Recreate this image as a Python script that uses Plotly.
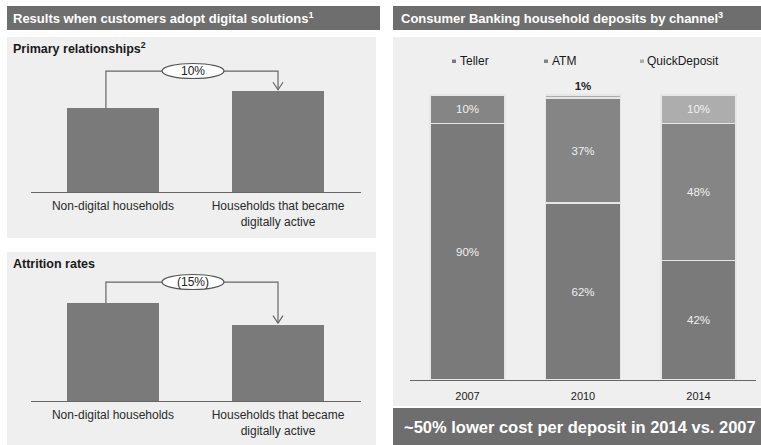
import plotly.graph_objects as go

W, H = 761, 445

# ---- data -------------------------------------------------------------
household_types = ["Non-digital households", "Households that became<br>digitally active"]
primary_index = [100, 120]        # primary relationships, indexed to non-digital = 100
attrition_index = [100, 78]       # attrition rates, indexed to non-digital = 100
primary_change = "10%"
attrition_change = "(15%)"

years = ["2007", "2010", "2014"]
teller = [90, 62, 42]
atm = [10, 37, 48]
quick_deposit = [None, 1, 10]

# ---- styling ----------------------------------------------------------
FONT = "Liberation Sans, Arial, sans-serif"
HEADER = "#6e6e6e"
PANEL = "#efefef"
BAR = "#7a7a7a"
C_TELLER = "#7a7a7a"
C_ATM = "#858585"
C_QUICK = "#adadad"
LINE = "#666666"
SEG_TXT = "#f0f0f0"


def px_x(p):
    return p / W


def px_y(p):
    return 1 - p / H


fig = go.Figure()

# left-hand bar charts
fig.add_trace(go.Bar(x=household_types, y=primary_index, xaxis="x", yaxis="y",
                     marker=dict(color=BAR, line=dict(width=0)), width=0.558,
                     showlegend=False, hoverinfo="skip"))
fig.add_trace(go.Bar(x=household_types, y=attrition_index, xaxis="x2", yaxis="y2",
                     marker=dict(color=BAR, line=dict(width=0)), width=0.558,
                     showlegend=False, hoverinfo="skip"))

# stacked deposits by channel
seg_line = dict(color="#e6e6e6", width=1.6)
seg_font = dict(color=SEG_TXT, size=11.5, family=FONT)
fig.add_trace(go.Bar(name="Teller", x=years, y=teller, xaxis="x3", yaxis="y3",
                     marker=dict(color=C_TELLER, line=seg_line), width=0.65,
                     text=[f"{v}%" for v in teller], textposition="inside",
                     insidetextanchor="middle", textangle=0, textfont=seg_font,
                     showlegend=False, hoverinfo="skip"))
fig.add_trace(go.Bar(name="ATM", x=years, y=atm, xaxis="x3", yaxis="y3",
                     marker=dict(color=C_ATM, line=seg_line), width=0.65,
                     text=[f"{v}%" for v in atm], textposition="inside",
                     insidetextanchor="middle", textangle=0, textfont=seg_font,
                     showlegend=False, hoverinfo="skip"))
fig.add_trace(go.Bar(name="QuickDeposit", x=years, y=quick_deposit, xaxis="x3", yaxis="y3",
                     marker=dict(color=C_QUICK, line=seg_line), width=0.65,
                     text=["" if v is None else f"{v}%" for v in quick_deposit],
                     textposition=["inside", "outside", "inside"],
                     insidetextanchor="middle", textangle=0,
                     textfont=dict(color=[SEG_TXT, "#222222", SEG_TXT], size=11.5, family=FONT,
                                   weight=["normal", "bold", "normal"]),
                     cliponaxis=False, showlegend=False, hoverinfo="skip"))

shapes = []
annotations = []

# background panels and header bars
for x0, y0, x1, y1, col in [
    (7, 6, 380, 30, HEADER),
    (393, 6, 761, 30, HEADER),
    (7, 37, 376, 238, PANEL),
    (7, 252, 376, 445, PANEL),
    (393, 37, 761, 406, PANEL),
    (393, 408, 761, 445, HEADER),
]:
    shapes.append(dict(type="rect", xref="paper", yref="paper", layer="below",
                       x0=px_x(x0), x1=px_x(x1), y0=px_y(y1), y1=px_y(y0),
                       fillcolor=col, line=dict(width=0)))

annotations += [
    dict(text="Results when customers adopt digital solutions<sup>1</sup>", x=px_x(11), y=px_y(18),
         xanchor="left", yanchor="middle", font=dict(family=FONT, size=13, color="white", weight="bold")),
    dict(text="Consumer Banking household deposits by channel<sup>3</sup>", x=px_x(399), y=px_y(18),
         xanchor="left", yanchor="middle", font=dict(family=FONT, size=13, color="white", weight="bold")),
    dict(text="Primary relationships<sup>2</sup>", x=px_x(11), y=px_y(48),
         xanchor="left", yanchor="middle", font=dict(family=FONT, size=12.5, color="#1a1a1a", weight="bold")),
    dict(text="Attrition rates", x=px_x(11), y=px_y(264),
         xanchor="left", yanchor="middle", font=dict(family=FONT, size=12.5, color="#1a1a1a", weight="bold")),
    dict(text="~50% lower cost per deposit in 2014 vs. 2007", x=px_x(580), y=px_y(427),
         xanchor="center", yanchor="middle", font=dict(family=FONT, size=16.5, color="white", weight="bold")),
]


def change_connector(xa, ya, values, level, label, oval_y):
    """Elbow connector from first bar to second bar with an oval change label."""
    a, b = values
    shapes.append(dict(type="path", xref=xa, yref=ya, layer="above",
                       path=f"M -0.043,{a} L -0.043,{level} L 1,{level} L 1,{b + 1.5}",
                       line=dict(color=LINE, width=1.2)))
    shapes.append(dict(type="path", xref=xa, yref=ya, layer="above",
                       xsizemode="pixel", xanchor=1, ysizemode="pixel", yanchor=b,
                       path="M -5,9 L 0,1.5 L 5,9", line=dict(color=LINE, width=1.2)))
    shapes.append(dict(type="circle", xref="paper", yref="paper", layer="above",
                       x0=px_x(162), x1=px_x(224), y0=px_y(oval_y + 7.5), y1=px_y(oval_y - 7.5),
                       fillcolor="white", line=dict(color="#555555", width=1.2)))
    annotations.append(dict(text=label, x=px_x(193), y=px_y(oval_y), xref="paper", yref="paper",
                            xanchor="center", yanchor="middle",
                            font=dict(family=FONT, size=12, color="#222222")))


change_connector("x", "y", primary_index, 144, primary_change, 71)
change_connector("x2", "y2", attrition_index, 121.4, attrition_change, 282)

# channel key
for sx, tx, label, col in [(452, 458, "Teller", C_TELLER), (544, 550, "ATM", C_ATM),
                           (640, 645, "QuickDeposit", C_QUICK)]:
    shapes.append(dict(type="rect", xref="paper", yref="paper", layer="above",
                       x0=px_x(sx), x1=px_x(sx + 4), y0=px_y(63), y1=px_y(59.5),
                       fillcolor=col, line=dict(width=0)))
    annotations.append(dict(text=label, x=px_x(tx), y=px_y(61), xanchor="left", yanchor="middle",
                            font=dict(family=FONT, size=12, color="#1a1a1a")))

for a in annotations:
    a.setdefault("xref", "paper")
    a.setdefault("yref", "paper")
    a["showarrow"] = False

cat_axis = dict(showline=True, linecolor=LINE, linewidth=1, ticks="", showgrid=False,
                zeroline=False, fixedrange=True, ticklabelstandoff=3,
                tickfont=dict(family=FONT, size=12, color="#2a2a2a"))
val_axis = dict(visible=False, showgrid=False, zeroline=False, fixedrange=True)

fig.update_layout(
    width=W, height=H,
    margin=dict(l=0, r=0, t=0, b=0),
    paper_bgcolor="white", plot_bgcolor="rgba(0,0,0,0)",
    barmode="stack",
    font=dict(family=FONT),
    xaxis=dict(cat_axis, domain=[px_x(30.5), px_x(360.5)], range=[-0.5, 1.5], anchor="y"),
    yaxis=dict(val_axis, domain=[px_y(192), px_y(62)], range=[0, 154.8], anchor="x"),
    xaxis2=dict(cat_axis, domain=[px_x(30.5), px_x(360.5)], range=[-0.5, 1.5], anchor="y2"),
    yaxis2=dict(val_axis, domain=[px_y(401), px_y(271)], range=[0, 132.65], anchor="x2"),
    xaxis3=dict(cat_axis, domain=[px_x(409.75), px_x(756.25)], range=[-0.5, 2.5], anchor="y3",
                ticklabelstandoff=6,
                tickfont=dict(family=FONT, size=11, color="#1a1a1a")),
    yaxis3=dict(val_axis, domain=[px_y(380), px_y(80)], range=[0, 105.26], anchor="x3"),
    shapes=shapes,
    annotations=annotations,
)

fig.write_html("out.html")
